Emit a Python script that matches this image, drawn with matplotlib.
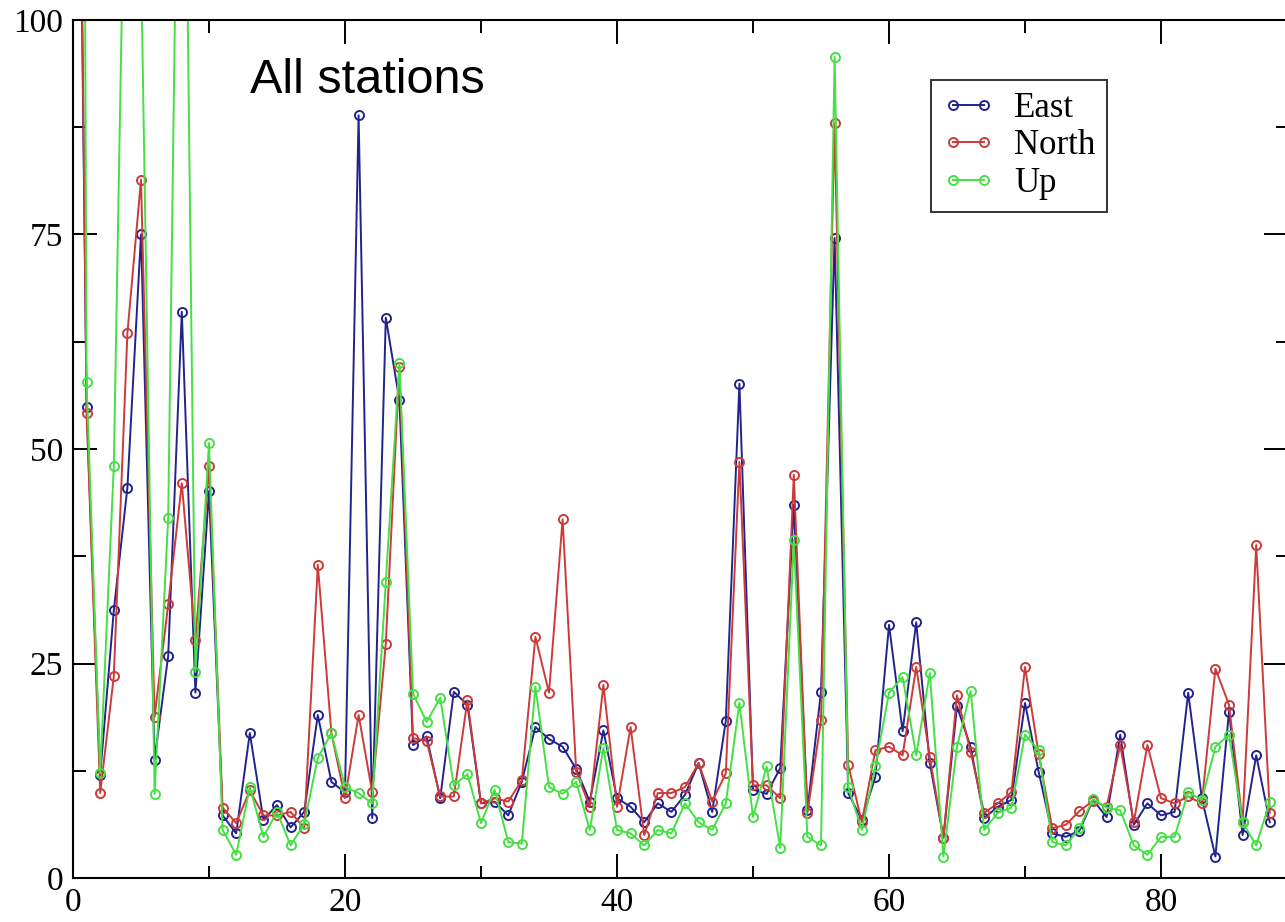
import matplotlib
matplotlib.use("Agg")
import matplotlib.pyplot as plt
from matplotlib.ticker import MultipleLocator

# ---- data ----
index = list(range(0, 89))

east = [190, 54.9, 12.0, 31.2, 45.5, 75.0, 13.8, 25.9, 66.0, 21.6,
        45.1, 7.3, 5.2, 16.9, 6.8, 8.5, 5.9, 7.7, 19.0, 11.2,
        10.0, 88.9, 7.0, 65.3, 55.7, 15.5, 16.5, 9.3, 21.7, 20.2,
        8.7, 8.9, 7.3, 11.2, 17.6, 16.2, 15.3, 12.7, 8.9, 17.2,
        9.3, 8.3, 6.5, 8.7, 7.7, 9.7, 13.4, 7.7, 18.3, 57.6,
        10.3, 9.8, 12.8, 43.5, 7.9, 21.7, 74.6, 9.9, 6.8, 11.8,
        29.5, 17.1, 29.8, 13.4, 4.7, 20.0, 15.3, 7.0, 8.3, 9.1,
        20.4, 12.4, 5.2, 4.8, 5.5, 9.1, 7.1, 16.7, 6.2, 8.7,
        7.3, 7.7, 21.6, 9.3, 2.5, 19.4, 5.0, 14.3, 6.5]

north = [200, 54.2, 9.9, 23.5, 63.5, 81.4, 18.8, 31.9, 46.0, 27.7,
         48.0, 8.2, 6.4, 10.2, 7.3, 7.3, 7.7, 5.8, 36.5, 16.9,
         9.3, 19.0, 10.0, 27.3, 59.6, 16.3, 16.0, 9.5, 9.5, 20.7,
         8.7, 9.3, 8.9, 11.4, 28.1, 21.6, 41.8, 12.4, 8.3, 22.5,
         8.3, 17.6, 5.0, 9.9, 9.9, 10.6, 13.4, 8.9, 12.2, 48.5,
         10.8, 10.8, 9.3, 47.0, 7.6, 18.4, 88.0, 13.2, 6.5, 14.9,
         15.3, 14.3, 24.6, 14.1, 4.7, 21.3, 14.7, 7.6, 8.7, 10.0,
         24.6, 14.5, 5.8, 6.2, 7.8, 9.0, 8.3, 15.5, 6.5, 15.5,
         9.3, 8.7, 9.5, 8.7, 24.4, 20.2, 6.5, 38.8, 7.6]

up = [450, 57.8, 12.2, 48.0, 138, 107, 9.8, 42.0, 160, 24.0,
      50.7, 5.6, 2.7, 10.6, 4.8, 7.7, 3.8, 6.3, 14.0, 16.9,
      10.6, 9.9, 8.7, 34.5, 60.0, 21.5, 18.2, 21.0, 10.8, 12.1,
      6.4, 10.3, 4.2, 4.0, 22.3, 10.6, 9.8, 11.2, 5.6, 15.2,
      5.6, 5.2, 3.8, 5.6, 5.2, 8.7, 6.5, 5.6, 8.7, 20.4,
      7.1, 13.0, 3.5, 39.4, 4.8, 3.8, 95.7, 10.6, 5.6, 13.0,
      21.6, 23.4, 14.3, 23.9, 2.5, 15.3, 21.8, 5.6, 7.6, 8.2,
      16.7, 14.9, 4.2, 3.8, 5.8, 9.2, 8.2, 7.9, 3.8, 2.7,
      4.8, 4.8, 10.0, 9.1, 15.3, 16.7, 6.5, 3.8, 8.9]

series_names = ["East", "North", "Up"]
series_colors = ["#23238c", "#cc3a3a", "#44e044"]

# ---- figure ----
W, H = 1285, 922
fig = plt.figure(figsize=(W / 100, H / 100), dpi=100)
left_px, right_px, top_px, bottom_px = 73, 1288, 20, 878
ax = fig.add_axes([left_px / W, (H - bottom_px) / H,
                   (right_px - left_px) / W, (bottom_px - top_px) / H])

for vals, name, col in zip([east, north, up], series_names, series_colors):
    ax.plot(index, vals, color=col, lw=1.4, marker="o", markersize=6.5,
            markerfacecolor="none", markeredgecolor=col, markeredgewidth=1.4,
            label=name)

ax.set_xlim(0, (right_px - left_px) / 13.6)
ax.set_ylim(0, 100)

ax.xaxis.set_major_locator(MultipleLocator(20))
ax.xaxis.set_minor_locator(MultipleLocator(10))
ax.yaxis.set_major_locator(MultipleLocator(25))
ax.yaxis.set_minor_locator(MultipleLocator(12.5))

serif = "Liberation Serif"
ax.tick_params(which="both", direction="in", top=True, right=True,
               width=1.4, color="black")
ax.tick_params(which="major", length=17, labelsize=24, pad=7)
ax.tick_params(which="minor", length=9)
for lab in ax.get_xticklabels() + ax.get_yticklabels():
    lab.set_fontfamily(serif)
for s in ax.spines.values():
    s.set_linewidth(1.5)

ax.text(0.146, 0.930, "All stations", transform=ax.transAxes,
        fontsize=35, family="Liberation Sans", ha="left", va="center")

leg = ax.legend(loc="upper left", bbox_to_anchor=(0.706, 0.930),
                prop={"family": serif, "size": 25}, numpoints=2,
                handlelength=1.5, handletextpad=0.55, labelspacing=0.13,
                borderpad=0.34, fancybox=False, frameon=True,
                borderaxespad=0)
leg.get_frame().set_edgecolor("black")
leg.get_frame().set_linewidth(1.4)

fig.savefig("out.png", dpi=100)
